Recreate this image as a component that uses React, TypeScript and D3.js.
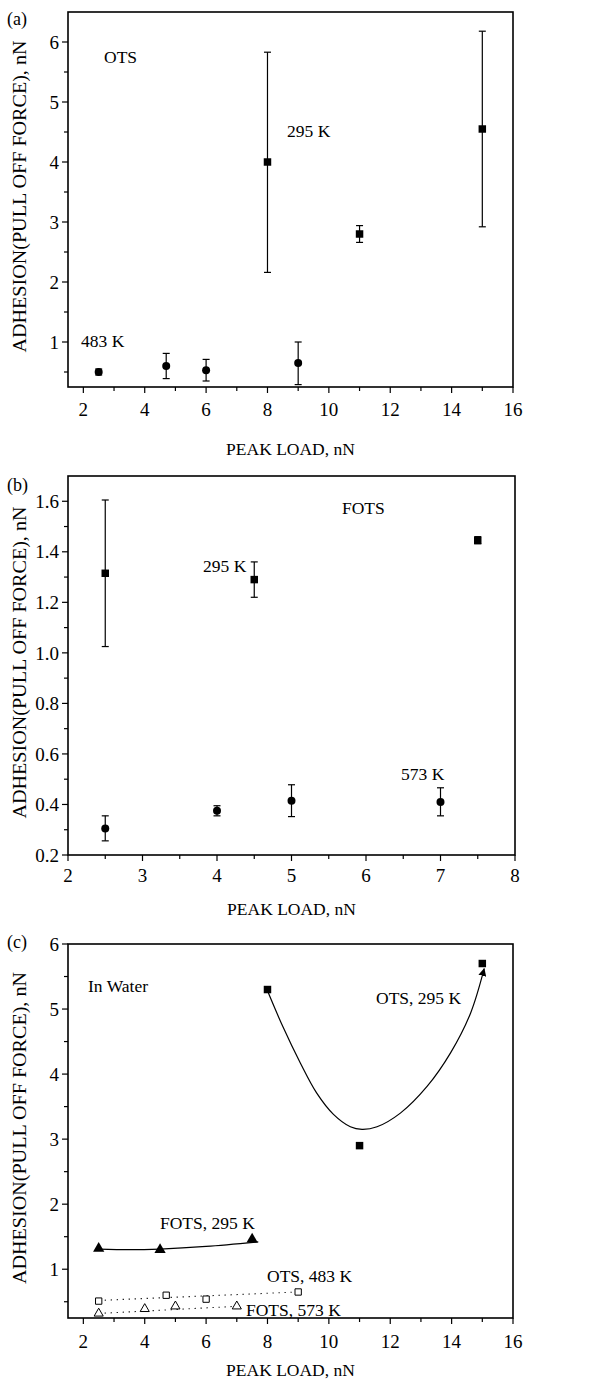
import React from 'react';
import * as d3 from 'd3';

// ---------- Panel (a): OTS ----------
const otsLoad295 = [8, 11, 15];
const otsAdh295 = [4.0, 2.8, 4.55];
const otsLow295 = [2.16, 2.66, 2.92];
const otsHigh295 = [5.83, 2.94, 6.18];
const otsLoad483 = [2.5, 4.7, 6, 9];
const otsAdh483 = [0.5, 0.6, 0.53, 0.65];
const otsLow483 = [0.45, 0.39, 0.35, 0.29];
const otsHigh483 = [0.55, 0.81, 0.71, 1.0];

// ---------- Panel (b): FOTS ----------
const fotsLoad295 = [2.5, 4.5, 7.5];
const fotsAdh295 = [1.315, 1.29, 1.445];
const fotsLow295 = [1.025, 1.22, 1.432];
const fotsHigh295 = [1.605, 1.36, 1.46];
const fotsLoad573 = [2.5, 4, 5, 7];
const fotsAdh573 = [0.305, 0.375, 0.415, 0.41];
const fotsLow573 = [0.256, 0.355, 0.352, 0.355];
const fotsHigh573 = [0.355, 0.395, 0.478, 0.466];

// ---------- Panel (c): in water ----------
const wOtsLoad295 = [8, 11, 15];
const wOtsAdh295 = [5.3, 2.9, 5.7];
const wOtsFitLoad = [8, 8.5, 9.07, 9.6, 10.15, 10.7, 11.08, 11.57, 12.33, 13.2, 13.97, 14.62, 15.06];
const wOtsFitAdh = [5.28, 4.73, 4.17, 3.71, 3.38, 3.19, 3.15, 3.19, 3.4, 3.81, 4.33, 4.94, 5.62];
const wFotsLoad295 = [2.5, 4.5, 7.5];
const wFotsAdh295 = [1.32, 1.3, 1.46];
const wFotsFitLoad = [2.5, 3.5, 4.5, 6, 7.7];
const wFotsFitAdh = [1.31, 1.3, 1.31, 1.35, 1.42];
const wOtsLoad483 = [2.5, 4.7, 6, 9];
const wOtsAdh483 = [0.51, 0.6, 0.54, 0.65];
const wOtsFit483Load = [2.5, 9];
const wOtsFit483Adh = [0.52, 0.65];
const wFotsLoad573 = [2.5, 4, 5, 7];
const wFotsAdh573 = [0.32, 0.39, 0.43, 0.43];
const wFotsFit573Load = [2.5, 7];
const wFotsFit573Adh = [0.32, 0.43];

// ---------- ticks ----------
const loadTicksWide = [2, 4, 6, 8, 10, 12, 14, 16];
const loadMinorWide = [3, 5, 7, 9, 11, 13, 15];
const adhTicksA = [1, 2, 3, 4, 5, 6];
const adhMinorA = [0.5, 1.5, 2.5, 3.5, 4.5, 5.5];
const loadTicksB = [2, 3, 4, 5, 6, 7, 8];
const loadMinorB = [2.5, 3.5, 4.5, 5.5, 6.5, 7.5];
const adhTicksB = [0.2, 0.4, 0.6, 0.8, 1.0, 1.2, 1.4, 1.6];
const adhMinorB = [0.3, 0.5, 0.7, 0.9, 1.1, 1.3, 1.5];
const adhTicksC = [1, 2, 3, 4, 5, 6];
const adhMinorC = [0.5, 1.5, 2.5, 3.5, 4.5, 5.5];

const FONT = '"Liberation Serif", "Times New Roman", serif';
const X_LABEL = 'PEAK LOAD, nN';
const Y_LABEL = 'ADHESION(PULL OFF FORCE), nN';

type Sc = d3.ScaleLinear<number, number>;

function Frame({ x, y, xt, xm, yt, ym, fmt, letter, letterY, xTickBase, xLabelBase }: any) {
  const [x0, x1] = x.range();
  const [y0, y1] = y.range();
  const yLabelY = (y0 + y1) / 2 - 3;
  return (
    <g>
      <rect x={x0} y={y1} width={x1 - x0} height={y0 - y1} fill="none" stroke="#000" strokeWidth={1.6} />
      {xt.map((v: number) => (
        <g key={'xt' + v}>
          <line x1={x(v)} x2={x(v)} y1={y0} y2={y0 + 6} stroke="#000" strokeWidth={1.2} />
          <text x={x(v)} y={xTickBase} textAnchor="middle" fontSize={19} fontFamily={FONT}>{v}</text>
        </g>
      ))}
      {xm.map((v: number) => (
        <line key={'xm' + v} x1={x(v)} x2={x(v)} y1={y0} y2={y0 + 4} stroke="#000" strokeWidth={1.2} />
      ))}
      {yt.map((v: number) => (
        <g key={'yt' + v}>
          <line x1={x0 - 6} x2={x0} y1={y(v)} y2={y(v)} stroke="#000" strokeWidth={1.2} />
          <text x={x0 - 9} y={y(v)} dy="0.35em" textAnchor="end" fontSize={19} fontFamily={FONT}>{fmt(v)}</text>
        </g>
      ))}
      {ym.map((v: number) => (
        <line key={'ym' + v} x1={x0 - 4} x2={x0} y1={y(v)} y2={y(v)} stroke="#000" strokeWidth={1.2} />
      ))}
      <text x={(x0 + x1) / 2} y={xLabelBase} textAnchor="middle" fontSize={17.5} fontFamily={FONT}>{X_LABEL}</text>
      <text transform={`translate(26,${yLabelY}) rotate(-90)`} textAnchor="middle" fontSize={19} fontFamily={FONT}
        textLength={312} lengthAdjust="spacingAndGlyphs">{Y_LABEL}</text>
      <text x={7} y={letterY} fontSize={18} fontFamily={FONT}>{letter}</text>
    </g>
  );
}

function ErrorBars({ x, y, xs, lo, hi }: { x: Sc; y: Sc; xs: number[]; lo: number[]; hi: number[] }) {
  return (
    <g stroke="#000" strokeWidth={1.2}>
      {xs.map((v, i) => (
        <g key={i}>
          <line x1={x(v)} x2={x(v)} y1={y(lo[i])} y2={y(hi[i])} />
          <line x1={x(v) - 3.5} x2={x(v) + 3.5} y1={y(lo[i])} y2={y(lo[i])} />
          <line x1={x(v) - 3.5} x2={x(v) + 3.5} y1={y(hi[i])} y2={y(hi[i])} />
        </g>
      ))}
    </g>
  );
}

function Symbols({ x, y, xs, ys, type, size, fill, stroke }: any) {
  const path = d3.symbol().type(type).size(size)() as string;
  return (
    <g>
      {xs.map((v: number, i: number) => (
        <path key={i} d={path} transform={`translate(${x(v)},${y(ys[i])})`} fill={fill} stroke={stroke || 'none'} strokeWidth={1} />
      ))}
    </g>
  );
}

function Label({ x, y, children }: any) {
  return <text x={x} y={y} fontSize={17.5} fontFamily={FONT}>{children}</text>;
}

export default function App() {
  const xa = d3.scaleLinear().domain([1.5, 16]).range([68, 513]);
  const ya = d3.scaleLinear().domain([0.25, 6.5]).range([387, 12]);
  const xb = d3.scaleLinear().domain([2, 8]).range([68, 515]);
  const yb = d3.scaleLinear().domain([0.2, 1.7]).range([855, 476]);
  const xc = d3.scaleLinear().domain([1.5, 16]).range([68, 513]);
  const yc = d3.scaleLinear().domain([0.25, 6]).range([1318, 944]);

  const fmtInt = (v: number) => d3.format('d')(v);
  const fmt1 = (v: number) => d3.format('.1f')(v);

  const lineC = (xs: number[], ys: number[], curve: any) =>
    d3.line<number>().x((_, i) => xc(xs[i])).y((_, i) => yc(ys[i])).curve(curve)(xs) as string;

  return (
    <svg width={600} height={1381} style={{ position: 'absolute', left: 0, top: 0, background: '#fff' }}>
      <defs>
        <marker id="arr" viewBox="0 0 10 10" refX={9} refY={5} markerWidth={8} markerHeight={8} markerUnits="userSpaceOnUse" orient="auto">
          <path d="M0,0 L10,5 L0,10 z" fill="#000" />
        </marker>
      </defs>
      <rect width={600} height={1381} fill="#fff" />

      {/* Panel (a) */}
      <Frame x={xa} y={ya} xt={loadTicksWide} xm={loadMinorWide} yt={adhTicksA} ym={adhMinorA} fmt={fmtInt}
        letter="(a)" letterY={25} xTickBase={416} xLabelBase={455} />
      <ErrorBars x={xa} y={ya} xs={otsLoad295} lo={otsLow295} hi={otsHigh295} />
      <ErrorBars x={xa} y={ya} xs={otsLoad483} lo={otsLow483} hi={otsHigh483} />
      <Symbols x={xa} y={ya} xs={otsLoad295} ys={otsAdh295} type={d3.symbolSquare} size={56} fill="#000" />
      <Symbols x={xa} y={ya} xs={otsLoad483} ys={otsAdh483} type={d3.symbolCircle} size={50} fill="#000" />
      <Label x={104} y={63}>OTS</Label>
      <Label x={287} y={137}>295 K</Label>
      <Label x={81} y={347}>483 K</Label>

      {/* Panel (b) */}
      <Frame x={xb} y={yb} xt={loadTicksB} xm={loadMinorB} yt={adhTicksB} ym={adhMinorB} fmt={fmt1}
        letter="(b)" letterY={491} xTickBase={882} xLabelBase={915} />
      <ErrorBars x={xb} y={yb} xs={fotsLoad295} lo={fotsLow295} hi={fotsHigh295} />
      <ErrorBars x={xb} y={yb} xs={fotsLoad573} lo={fotsLow573} hi={fotsHigh573} />
      <Symbols x={xb} y={yb} xs={fotsLoad295} ys={fotsAdh295} type={d3.symbolSquare} size={56} fill="#000" />
      <Symbols x={xb} y={yb} xs={fotsLoad573} ys={fotsAdh573} type={d3.symbolCircle} size={50} fill="#000" />
      <Label x={342} y={514}>FOTS</Label>
      <Label x={203} y={572}>295 K</Label>
      <Label x={401} y={780}>573 K</Label>

      {/* Panel (c) */}
      <Frame x={xc} y={yc} xt={loadTicksWide} xm={loadMinorWide} yt={adhTicksC} ym={adhMinorC} fmt={fmtInt}
        letter="(c)" letterY={948} xTickBase={1348} xLabelBase={1376} />
      <path d={lineC(wOtsFitLoad, wOtsFitAdh, d3.curveCatmullRom)} fill="none" stroke="#000" strokeWidth={1.2} markerEnd="url(#arr)" />
      <path d={lineC(wFotsFitLoad, wFotsFitAdh, d3.curveCatmullRom)} fill="none" stroke="#000" strokeWidth={1.2} />
      <path d={lineC(wOtsFit483Load, wOtsFit483Adh, d3.curveLinear)} fill="none" stroke="#000" strokeWidth={1.1} strokeDasharray="1.2 4.8" />
      <path d={lineC(wFotsFit573Load, wFotsFit573Adh, d3.curveLinear)} fill="none" stroke="#000" strokeWidth={1.1} strokeDasharray="1.2 4.8" />
      <Symbols x={xc} y={yc} xs={wOtsLoad295} ys={wOtsAdh295} type={d3.symbolSquare} size={56} fill="#000" />
      <Symbols x={xc} y={yc} xs={wFotsLoad295} ys={wFotsAdh295} type={d3.symbolTriangle} size={55} fill="#000" />
      <Symbols x={xc} y={yc} xs={wOtsLoad483} ys={wOtsAdh483} type={d3.symbolSquare} size={40} fill="#fff" stroke="#000" />
      <Symbols x={xc} y={yc} xs={wFotsLoad573} ys={wFotsAdh573} type={d3.symbolTriangle} size={36} fill="#fff" stroke="#000" />
      <Label x={88} y={992}>In Water</Label>
      <Label x={376} y={1004}>OTS, 295 K</Label>
      <Label x={160} y={1229}>FOTS, 295 K</Label>
      <Label x={267} y={1282}>OTS, 483 K</Label>
      <Label x={246} y={1316}>FOTS, 573 K</Label>
    </svg>
  );
}
